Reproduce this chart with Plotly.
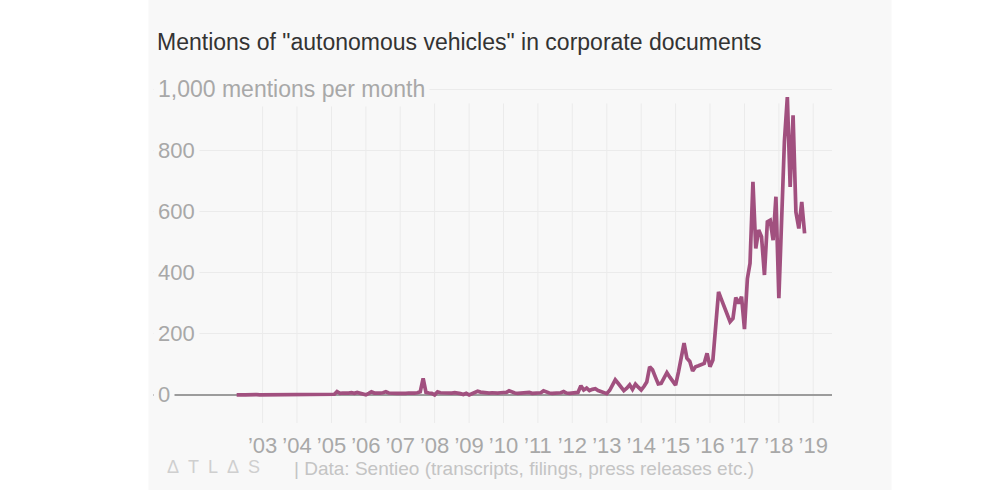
import pandas as pd
import plotly.graph_objects as go

# ---- data (monthly mentions, Apr 2002 .. Oct 2018) ----
start_month = "2002-04-01"
y2002 = [0, 1, 0, 0, 1, 0, 0, 1, 0]
y2003 = [0, 1, 0, 0, 1, 0, 0, 0, 1, 0, 0, 1]
y2004 = [0, 1, 0, 1, 0, 0, 1, 0, 1, 0, 1, 0]
y2005 = [1, 2, 11, 5, 6, 5, 6, 7, 5, 8, 6, 3]
y2006 = [0, 5, 10, 6, 5, 6, 7, 10, 6, 5, 6, 5]
y2007 = [5, 4, 5, 6, 5, 6, 7, 10, 54, 8, 6, 5]
y2008 = [0, 10, 7, 6, 7, 5, 6, 7, 6, 4, 1, 5]
y2009 = [0, 4, 8, 12, 9, 7, 6, 6, 7, 8, 6, 7]
y2010 = [6, 8, 13, 9, 6, 5, 6, 7, 6, 8, 5, 6]
y2011 = [5, 7, 13, 9, 6, 5, 6, 5, 7, 11, 6, 5]
y2012 = [6, 5, 8, 30, 16, 22, 14, 18, 20, 14, 11, 8]
y2013 = [4, 15, 32, 49, 38, 25, 14, 22, 33, 18, 35, 25]
y2014 = [16, 28, 42, 92, 82, 58, 36, 38, 55, 73, 58, 45]
y2015 = [32, 75, 120, 169, 120, 109, 78, 92, 95, 98, 103, 136]
y2016 = [92, 114, 225, 337, 312, 285, 262, 239, 250, 318, 299, 321]
y2017 = [215, 380, 430, 697, 479, 539, 517, 392, 566, 571, 506, 648]
y2018 = [316, 580, 830, 974, 680, 914, 598, 544, 631, 528]

tick_years = list(range(2003, 2020))
tick_labels = ["\u2019" + str(y)[2:] for y in tick_years]
y_ticks = [0, 200, 400, 600, 800, 1000]
y_tick_labels = ["0", "200", "400", "600", "800", "1,000 mentions per month"]

mentions = (y2002 + y2003 + y2004 + y2005 + y2006 + y2007 + y2008 + y2009 +
            y2010 + y2011 + y2012 + y2013 + y2014 + y2015 + y2016 + y2017 + y2018)
months = pd.date_range(start_month, periods=len(mentions), freq="MS")

# ---- layout geometry (reference pixels) ----
W, H = 990, 495
L, R, T, B = 153, 832, 86, 423
PANEL = "#f8f8f8"
GRID = "#ebebeb"
LABEL = "#a8a8a8"
LINE = "#a1507f"
FONT = "Liberation Sans"


def px_x(p):
    return (p - L) / (R - L)


def px_y(p):
    return (B - p) / (B - T)


fig = go.Figure()
fig.add_trace(go.Scatter(
    x=months, y=mentions, mode="lines",
    line=dict(color=LINE, width=3.7),
    hoverinfo="skip", showlegend=False,
))

shapes = [
    dict(type="rect", xref="paper", yref="paper",
         x0=px_x(148.5), x1=px_x(891.5), y0=px_y(490), y1=px_y(-2),
         fillcolor=PANEL, line=dict(width=0), layer="below"),
]
for yr in tick_years:
    shapes.append(dict(type="line", xref="x", yref="y",
                       x0=f"{yr}-01-01", x1=f"{yr}-01-01", y0=-92, y1=953,
                       line=dict(color=GRID, width=1), layer="below"))

annotations = []
for v, t in zip(y_ticks, y_tick_labels):
    annotations.append(dict(
        x=0, xref="paper", y=v, yref="y", text=t, showarrow=False,
        xanchor="left", yanchor="middle", bgcolor=PANEL, borderpad=4,
        font=dict(family=FONT, size=22 if v < 1000 else 23, color=LABEL),
    ))
annotations.append(dict(
    x=px_x(165), xref="paper", y=px_y(467), yref="paper",
    text="\u0394\u2002T\u2002L\u2002\u0394\u2002S", showarrow=False,
    xanchor="left", yanchor="middle",
    font=dict(family=FONT, size=18, color="#cfcfcf"),
))
annotations.append(dict(
    x=px_x(292), xref="paper", y=px_y(468), yref="paper",
    text="| Data: Sentieo (transcripts, filings, press releases etc.)",
    showarrow=False, xanchor="left", yanchor="middle",
    font=dict(family=FONT, size=19, color="#c4c4c4"),
))

fig.update_layout(
    width=W, height=H,
    margin=dict(l=L, r=W - R, t=T, b=H - B, pad=0),
    paper_bgcolor="white", plot_bgcolor="rgba(0,0,0,0)",
    title=dict(text="Mentions of \"autonomous vehicles\" in corporate documents",
               x=157 / W, xanchor="left", xref="container",
               y=1 - 42 / H, yanchor="middle", yref="container",
               font=dict(family=FONT, size=23, color="#333333")),
    xaxis=dict(type="date", range=["1999-10-26", "2019-07-19"],
               tickvals=[f"{y}-01-01" for y in tick_years], ticktext=tick_labels,
               showgrid=False, zeroline=False, showline=False, ticks="",
               ticklabelstandoff=7,
               tickfont=dict(family=FONT, size=22, color=LABEL),
               fixedrange=True),
    yaxis=dict(range=[-92, 1010], tickvals=y_ticks, showticklabels=False,
               showgrid=True, gridcolor=GRID, gridwidth=1,
               zeroline=True, zerolinecolor="#9c9c9c", zerolinewidth=1.5,
               showline=False, ticks="", fixedrange=True),
    shapes=shapes, annotations=annotations,
    font=dict(family=FONT),
)

fig.write_html("out.html", config={"displayModeBar": False},
               post_script="document.body.style.margin='0';")
